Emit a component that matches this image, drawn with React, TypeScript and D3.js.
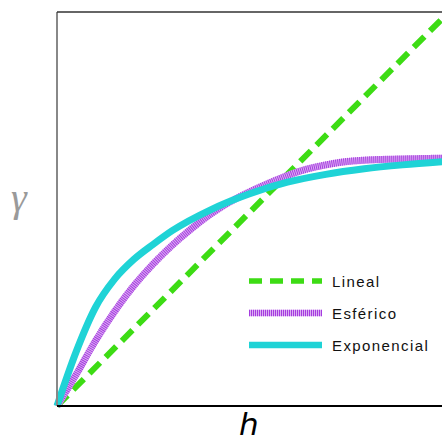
import React from "react";
import { scaleLinear, line, curveMonotoneX } from "d3";

// values (h, gamma)
const linearH = [0, 10];
const linearG = [0, 9.8];

const sphericalH = [0, 0.5, 1, 1.5, 2, 2.5, 3, 3.5, 4, 4.5, 5, 5.5, 6, 6.5, 7, 7.5, 8, 9, 10.03];
const sphericalG = [0, 0.8, 1.65, 2.4, 3.05, 3.6, 4.08, 4.5, 4.87, 5.18, 5.43, 5.65, 5.85, 6.01, 6.12, 6.2, 6.24, 6.27, 6.29];

const expH = [0, 0.5, 1, 1.5, 2, 2.5, 3, 4, 5, 6, 7, 8, 9, 10.03];
const expG = [0, 1.38, 2.5, 3.22, 3.72, 4.1, 4.45, 4.98, 5.38, 5.68, 5.88, 6.02, 6.12, 6.2];

const legendLabels = ["Lineal", "Esférico", "Exponencial"];

const zip = (a: number[], b: number[]) => a.map((v, i) => [v, b[i]] as [number, number]);

export default function App() {
  const width = 442;
  const height = 441;
  const margin = { left: 57, top: 12, bottom: 35 };

  const x = scaleLinear().domain([0, 10]).range([margin.left, 441]);
  const y = scaleLinear().domain([0, 10]).range([height - margin.bottom, margin.top]);

  const gen = line<[number, number]>()
    .x((d) => x(d[0]))
    .y((d) => y(d[1]))
    .curve(curveMonotoneX);

  const series = [
    { name: legendLabels[0], pts: zip(linearH, linearG), color: "#3ddc14", under: null as string | null, w: 6, dash: "15,8" },
    { name: legendLabels[1], pts: zip(sphericalH, sphericalG), color: "#a53cdf", under: "#dcaef3", w: 7, dash: "1,1" },
    { name: legendLabels[2], pts: zip(expH, expG), color: "#1fd3d6", under: null, w: 7, dash: undefined },
  ];

  const y0 = y(0);
  const yTop = y(10);

  return (
    <svg width={width} height={height} style={{ position: "absolute", left: 0, top: 0 }}>
      <rect width={width} height={height} fill="white" />
      <g>
        {series.map((s) => (
          <g key={s.name}>
            {s.under && (
              <path d={gen(s.pts) || ""} fill="none" stroke={s.under} strokeWidth={s.w} />
            )}
            <path
              d={gen(s.pts) || ""}
              fill="none"
              stroke={s.color}
              strokeWidth={s.w}
              strokeDasharray={s.dash}
            />
          </g>
        ))}
      </g>
      {/* spines */}
      <line x1={margin.left} x2={margin.left} y1={yTop} y2={y0} stroke="#888" strokeWidth={2} />
      <line x1={margin.left} x2={width} y1={yTop} y2={yTop} stroke="#333" strokeWidth={1.5} />
      <line x1={margin.left} x2={width} y1={y0} y2={y0} stroke="#000" strokeWidth={2} />

      {/* legend */}
      <g fontFamily="Liberation Sans, Arial, sans-serif" fontSize={15} letterSpacing={1.4}>
        {series.map((s, i) => {
          const ly = 281 + i * 32;
          return (
            <g key={s.name}>
              {s.under && (
                <line x1={249} x2={322} y1={ly} y2={ly} stroke={s.under} strokeWidth={s.w - 0.5} />
              )}
              <line x1={249} x2={322} y1={ly} y2={ly} stroke={s.color} strokeWidth={s.w - 0.5}
                strokeDasharray={s.name === legendLabels[0] ? "13,8" : s.dash} />
              <text x={332} y={ly + 5.5} fill="#111">{s.name}</text>
            </g>
          );
        })}
      </g>

      {/* axis labels */}
      <text x={11} y={211} fontFamily="Liberation Serif, serif" fontStyle="italic" fontSize={40} fill="#9a9a9a">γ</text>
      <text x={239} y={435} fontFamily="DejaVu Sans, sans-serif" fontStyle="italic" fontSize={31} fill="#000">h</text>
    </svg>
  );
}
